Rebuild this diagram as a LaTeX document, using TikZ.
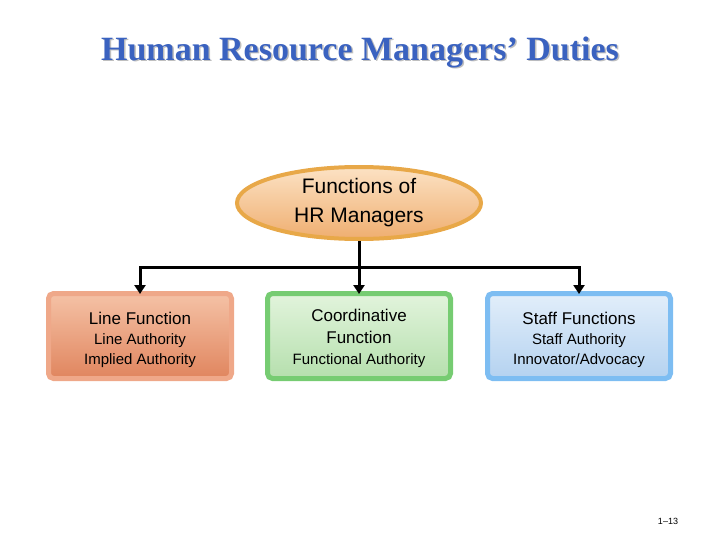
\documentclass[tikz,border=0pt]{standalone}
\usepackage{fontspec}
\setmainfont{Liberation Serif}
\setsansfont{Liberation Sans}
\usepackage{xcolor}
\usetikzlibrary{positioning, arrows.meta, shapes.geometric}

\definecolor{titleblue}{HTML}{3A62C0}
\definecolor{ellline}{HTML}{E8A848}
\definecolor{ellhi}{HTML}{FCE2C4}
\definecolor{elllo}{HTML}{EFAE70}
\definecolor{lineedge}{HTML}{EFA889}
\definecolor{linehi}{HTML}{F5C2A6}
\definecolor{linelo}{HTML}{E0855E}
\definecolor{coordedge}{HTML}{76CC72}
\definecolor{coordhi}{HTML}{E2F4DC}
\definecolor{coordlo}{HTML}{B5DFAD}
\definecolor{staffedge}{HTML}{7DBDF2}
\definecolor{staffhi}{HTML}{E2EEFA}
\definecolor{stafflo}{HTML}{B4D2F0}

\tikzset{
    dutybox/.style={draw, line width=5pt, rounded corners=5pt, minimum width=183pt,
        minimum height=85pt, align=center, text=black, text depth=6pt,
        font=\sffamily\fontsize{15}{20}\selectfont},
    linebox/.style={dutybox, draw=lineedge, top color=linehi, bottom color=linelo},
    coordbox/.style={dutybox, draw=coordedge, top color=coordhi, bottom color=coordlo},
    staffbox/.style={dutybox, draw=staffedge, top color=staffhi, bottom color=stafflo},
    branch/.style={line width=3pt, -{Triangle[length=9pt, width=11pt]}}
}
\newcommand{\boxhead}[1]{{\fontsize{17}{20}\selectfont #1}}

\begin{document}
\begin{tikzpicture}[x=1pt, y=-1pt]
    \useasboundingbox (0,0) rectangle (720,540);

    % title with shadow
    \node[text=black!25, font=\bfseries\fontsize{34}{38}\selectfont] at (361.5,53.5) {Human Resource Managers’ Duties};
    \node[text=titleblue, font=\bfseries\fontsize{34}{38}\selectfont] (title) at (360,52) {Human Resource Managers’ Duties};

    % top ellipse
    \node[ellipse, draw=ellline, line width=4pt, top color=ellhi, bottom color=elllo,
        minimum width=244pt, minimum height=72pt, align=center, inner sep=0pt,
        font=\sffamily\fontsize{21}{29}\selectfont] (hr) at (359,203) {Functions of\\HR Managers};

    % three duty boxes
    \node[linebox] (line) at (140,336) {\boxhead{\rule{0pt}{22pt}Line Function}\\Line Authority\\Implied Authority};
    \node[coordbox] (coord) at (359,336) {\boxhead{\rule{0pt}{20pt}Coordinative}\\[2pt]\boxhead{Function}\\[1pt]Functional Authority};
    \node[staffbox] (staff) at (579,336) {\boxhead{\rule{0pt}{22pt}Staff Functions}\\Staff Authority\\Innovator/Advocacy};

    % connectors
    \coordinate (split) at (359,267);
    \draw[line width=3pt] (hr.south) -- (split);
    \draw[branch] (split) -| ([yshift=-3pt]line.north);
    \draw[branch] (split) -- ([yshift=-3pt]coord.north);
    \draw[branch] (split) -| ([yshift=-3pt]staff.north);

    % page number
    \node[font=\sffamily\fontsize{9}{11}\selectfont] (page) at (668,521) {1--13};
\end{tikzpicture}
\end{document}
